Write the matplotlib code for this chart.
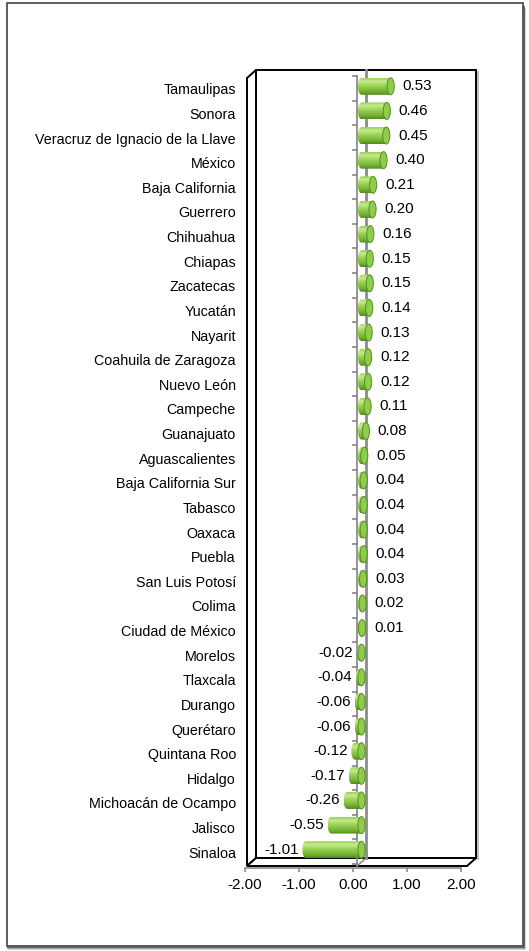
import matplotlib
matplotlib.use('Agg')
import matplotlib.pyplot as plt
from matplotlib.path import Path
from matplotlib.patches import PathPatch, Ellipse, Polygon, Rectangle
from matplotlib.colors import LinearSegmentedColormap
import numpy as np

plt.rcParams['font.family'] = ['Liberation Sans', 'DejaVu Sans']

# entidades, de arriba hacia abajo
states = [
    'Tamaulipas', 'Sonora', 'Veracruz de Ignacio de la Llave', 'México',
    'Baja California', 'Guerrero', 'Chihuahua', 'Chiapas', 'Zacatecas',
    'Yucatán', 'Nayarit', 'Coahuila de Zaragoza', 'Nuevo León', 'Campeche',
    'Guanajuato', 'Aguascalientes', 'Baja California Sur', 'Tabasco',
    'Oaxaca', 'Puebla', 'San Luis Potosí', 'Colima', 'Ciudad de México',
    'Morelos', 'Tlaxcala', 'Durango', 'Querétaro', 'Quintana Roo',
    'Hidalgo', 'Michoacán de Ocampo', 'Jalisco', 'Sinaloa',
]
values = [
    0.53, 0.46, 0.45, 0.40, 0.21, 0.20, 0.16, 0.15, 0.15, 0.14, 0.13,
    0.12, 0.12, 0.11, 0.08, 0.05, 0.04, 0.04, 0.04, 0.04, 0.03, 0.02,
    0.01, -0.02, -0.04, -0.06, -0.06, -0.12, -0.17, -0.26, -0.55, -1.01,
]
xticks = [-2, -1, 0, 1, 2]

W, H = 529, 951
fig = plt.figure(figsize=(W / 100, H / 100), dpi=100)


def fx(px):
    return px / W


def fy(py):
    return 1 - py / H


# outer chart frame with a soft shadow
for off, c in [(3, '#d0d0d0'), (2, '#a0a0a0'), (1, '#606060')]:
    fig.patches.append(Rectangle((fx(7 + off * 0.5), fy(946 + off)), fx(516), fy(3) - fy(943),
                                 transform=fig.transFigure, fill=False,
                                 edgecolor=c, lw=1.3, zorder=-3))
fig.patches.append(Rectangle((fx(7), fy(946)), fx(516), fy(3) - fy(946),
                             transform=fig.transFigure, facecolor='white',
                             edgecolor='#505050', lw=1.3, zorder=-2))

n = len(states)
ax = fig.add_axes([fx(245), fy(868), (461 - 245) / W, (868 - 78) / H])
px_y = (868 - 78) / (n + 2 / 24.625)  # pixels per category
ymin = -0.5 - 2 / px_y
ax.set_xlim(-2, 2)
ax.set_ylim(ymin, n - 0.5)
ax.patch.set_alpha(0)

# 3-D box geometry (data units)
X0 = 4 / 54          # front plane zero
SX = 55 / 54         # box scale
DX = 9 / 54          # depth shift in x
DY = 8 / px_y        # depth shift in y


def bx(v, d):
    return X0 + SX * v + d * DX


top = n - 0.5
bot = -0.5
line = dict(edgecolor='black', lw=1.4, facecolor='white', clip_on=False)
ax.add_patch(Polygon([(bx(-2, 1), bot + DY), (bx(2, 1), bot + DY),
                      (bx(2, 1), top + DY), (bx(-2, 1), top + DY)], zorder=1, **line))
ax.add_patch(Polygon([(bx(-2, 0), bot), (bx(-2, 0), top),
                      (bx(-2, 1), top + DY), (bx(-2, 1), bot + DY)], zorder=1, **line))
ax.add_patch(Polygon([(bx(-2, 0), bot), (bx(2, 0), bot),
                      (bx(2, 1), bot + DY), (bx(-2, 1), bot + DY)], zorder=1, **line))
# shadow along right wall edge
ax.plot([bx(2, 1) + 0.03] * 2, [bot + DY - 0.05, top + DY - 0.1], color='#b0b0b0',
        lw=1.2, clip_on=False, zorder=0.9)

# gridline at zero on the back wall
ax.plot([bx(0, 1)] * 2, [bot + DY, top + DY], color='#8c8c8c', lw=2, clip_on=False, zorder=2)
ax.plot([bx(0, 0), bx(0, 1)], [bot, bot + DY], color='#8c8c8c', lw=1.2, clip_on=False, zorder=2)

# category axis at zero with tick marks between categories
ax.plot([bx(0, 0)] * 2, [bot + 0.08, top + 0.08], color='#8c8c8c', lw=1.3, clip_on=False, zorder=3)
for b in np.arange(n + 1) - 0.5:
    ax.plot([bx(0, 0) - 0.075, bx(0, 0)], [b + 0.08] * 2, color='#8c8c8c', lw=1.3,
            clip_on=False, zorder=3)

# cylinder bars
cmap = LinearSegmentedColormap.from_list('cyl', [
    (0.0, '#518a1e'), (0.2, '#72b02f'), (0.55, '#9cd458'),
    (0.8, '#c6eb8f'), (1.0, '#98d152')])
grad = np.linspace(0, 1, 64).reshape(-1, 1)
half_h = 8.5 / px_y
r = 3.6 / 54

for i, (name, v) in enumerate(zip(states, values)):
    y = n - 1 - i
    yc = y + DY / 2
    x_lo = bx(min(v, 0), 0.5)
    x_hi = bx(max(v, 0), 0.5)
    t = np.linspace(np.pi / 2, 3 * np.pi / 2, 20)
    verts = [(x_hi, yc + half_h)]
    verts += [(x_lo + r * np.cos(a), yc + half_h * np.sin(a)) for a in t]
    verts += [(x_hi, yc - half_h), (x_hi, yc + half_h)]
    body = PathPatch(Path(verts, closed=True), facecolor='none', edgecolor='none',
                     clip_on=False, zorder=4)
    ax.add_patch(body)
    im = ax.imshow(grad, extent=(x_lo - r, x_hi, yc - half_h, yc + half_h), origin='lower',
                   aspect='auto', cmap=cmap, zorder=4, interpolation='bilinear')
    im.set_clip_path(body)
    ax.add_patch(Ellipse((x_hi, yc), 2 * r, 2 * half_h, facecolor='#8fcc4c',
                         edgecolor='#558f24', lw=0.7, clip_on=False, zorder=5))

    if v >= 0:
        ax.annotate(f'{v:.2f}', (x_hi + r, yc), xytext=(6, 0), textcoords='offset points',
                    ha='left', va='center', fontsize=11, zorder=6, annotation_clip=False)
    else:
        ax.annotate(f'{v:.2f}', (x_lo - r, yc), xytext=(-2.5, 0), textcoords='offset points',
                    ha='right', va='center', fontsize=11, zorder=6, annotation_clip=False)

ax.set_xlim(-2, 2)
ax.set_ylim(ymin, n - 0.5)

ax.set_yticks(np.arange(n) + 0.06)
ax.set_yticklabels(states[::-1], fontsize=10.3)
ax.tick_params(axis='y', length=0, pad=6.5)
ax.set_xticks(xticks)
ax.set_xticklabels([f'{t:.2f}' for t in xticks], fontsize=11)
ax.tick_params(axis='x', length=3, width=1.2, color='#8c8c8c', pad=4.5)
for s in ['left', 'right', 'top']:
    ax.spines[s].set_visible(False)
ax.spines['bottom'].set_color('#8c8c8c')
ax.spines['bottom'].set_linewidth(1.2)

fig.savefig('out.png', dpi=100)
